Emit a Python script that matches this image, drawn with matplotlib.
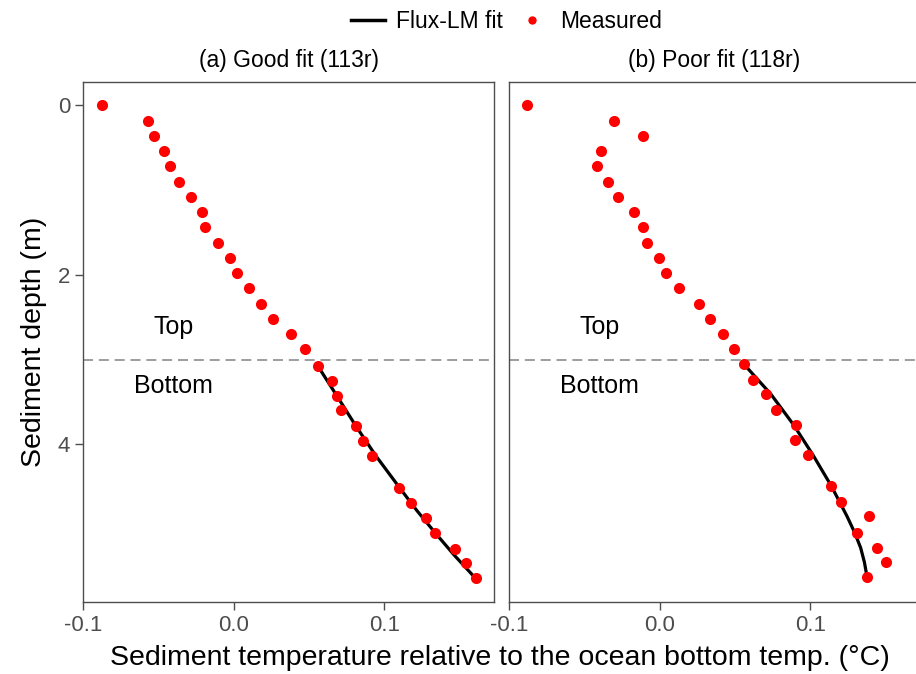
import numpy as np
import matplotlib
matplotlib.use('Agg')
from matplotlib import pyplot as plt
from matplotlib.lines import Line2D

plt.rcParams['font.family'] = ['Liberation Sans', 'DejaVu Sans']
plt.rcParams['axes.unicode_minus'] = False

# measured profiles (depth in m, temperature relative to ocean bottom in degC)
depth_a = [0.0, 0.185, 0.365, 0.54, 0.72, 0.90, 1.08, 1.26, 1.44, 1.62, 1.80,
           1.98, 2.16, 2.34, 2.52, 2.70, 2.88, 3.07, 3.25, 3.43, 3.60, 3.78,
           3.96, 4.14, 4.51, 4.69, 4.87, 5.04, 5.23, 5.40, 5.58]
temp_a = [-0.0876, -0.0568, -0.0528, -0.0464, -0.0422, -0.0362, -0.0284,
          -0.0209, -0.0189, -0.0104, -0.0027, 0.0024, 0.0100, 0.0177, 0.0259,
          0.0377, 0.0470, 0.0556, 0.0649, 0.0687, 0.0709, 0.0809, 0.0860,
          0.0918, 0.1100, 0.1175, 0.1277, 0.1335, 0.1468, 0.1539, 0.1605]

depth_b = [0.0, 0.185, 0.365, 0.54, 0.72, 0.90, 1.08, 1.26, 1.44, 1.62, 1.80,
           1.98, 2.16, 2.34, 2.52, 2.70, 2.88, 3.05, 3.24, 3.41, 3.60, 3.77,
           3.95, 4.13, 4.49, 4.68, 4.85, 5.04, 5.22, 5.39, 5.57]
temp_b = [-0.0878, -0.0302, -0.0111, -0.0391, -0.0413, -0.0342, -0.0277,
          -0.0171, -0.0107, -0.0084, -0.0007, 0.0045, 0.0127, 0.0263, 0.0333,
          0.0420, 0.0493, 0.0558, 0.0622, 0.0705, 0.0771, 0.0905, 0.0900,
          0.0985, 0.1138, 0.1207, 0.1393, 0.1311, 0.1442, 0.1505, 0.1378]

# Flux-LM fit over the bottom section
fit_depth_a = [3.07, 3.43, 3.78, 4.14, 4.51, 4.78, 5.04, 5.31, 5.58]
fit_temp_a = [0.0556, 0.0685, 0.0809, 0.0945, 0.1100, 0.1215, 0.1335, 0.1465,
              0.1605]
fit_depth_b = [3.05, 3.41, 3.77, 4.13, 4.49, 4.85, 5.04, 5.22, 5.39, 5.57]
fit_temp_b = [0.0558, 0.0740, 0.0890, 0.1020, 0.1140, 0.1245, 0.1295, 0.1335,
              0.1360, 0.1378]

panels = [('(a) Good fit (113r)', depth_a, temp_a, fit_depth_a, fit_temp_a),
          ('(b) Poor fit (118r)', depth_b, temp_b, fit_depth_b, fit_temp_b)]

split_depth = 3.0
edge_col = '#4d4d4d'

fig = plt.figure(figsize=(9.16, 6.74), dpi=100)
lefts = [0.0909, 0.5557]
width = 0.4488
for i, (title, d, t, fd, ft) in enumerate(panels):
    ax = fig.add_axes([lefts[i], 0.1068, width, 0.7715])
    ax.axhline(split_depth, color='#8c8c8c', lw=1.2, ls=(0, (6, 3.5)), zorder=1)
    ax.plot(ft, fd, color='black', lw=2.3, zorder=2)
    ax.plot(t, d, 'o', color='#ff0000', ms=8, mec='none', zorder=3)
    ax.text(-0.040, 2.62, 'Top', fontsize=18, ha='center', va='center')
    ax.text(-0.040, 3.31, 'Bottom', fontsize=18, ha='center', va='center')
    ax.set_xlim(-0.1, 0.173)
    ax.set_ylim(5.86, -0.275)
    ax.set_xticks([-0.1, 0.0, 0.1])
    ax.set_xticklabels(['-0.1', '0.0', '0.1'])
    ax.set_title(title, fontsize=16.5, pad=11)
    for sp in ax.spines.values():
        sp.set_color(edge_col)
        sp.set_linewidth(1.0)
    ax.tick_params(colors=edge_col, labelcolor='#4d4d4d', labelsize=16,
                   length=5.5, width=1.0, pad=4)
    if i == 0:
        ax.set_yticks([0, 2, 4])
        ax.set_ylabel('Sediment depth (m)', fontsize=20.5, labelpad=8)
    else:
        ax.set_yticks([])

fig.text(0.546, 0.004, 'Sediment temperature relative to the ocean bottom temp. (°C)',
         fontsize=20.5, ha='center', va='bottom')

handles = [Line2D([], [], color='black', lw=2.5),
           Line2D([], [], ls='none', marker='o', color='#ff0000', mec='none', ms=6)]
fig.legend(handles, ['Flux-LM fit', 'Measured'], loc='center',
           bbox_to_anchor=(0.553, 0.968), ncol=2, frameon=False, fontsize=16.5,
           handlelength=1.5, columnspacing=0.5, handletextpad=0.5)

fig.savefig('out.png', dpi=100)
